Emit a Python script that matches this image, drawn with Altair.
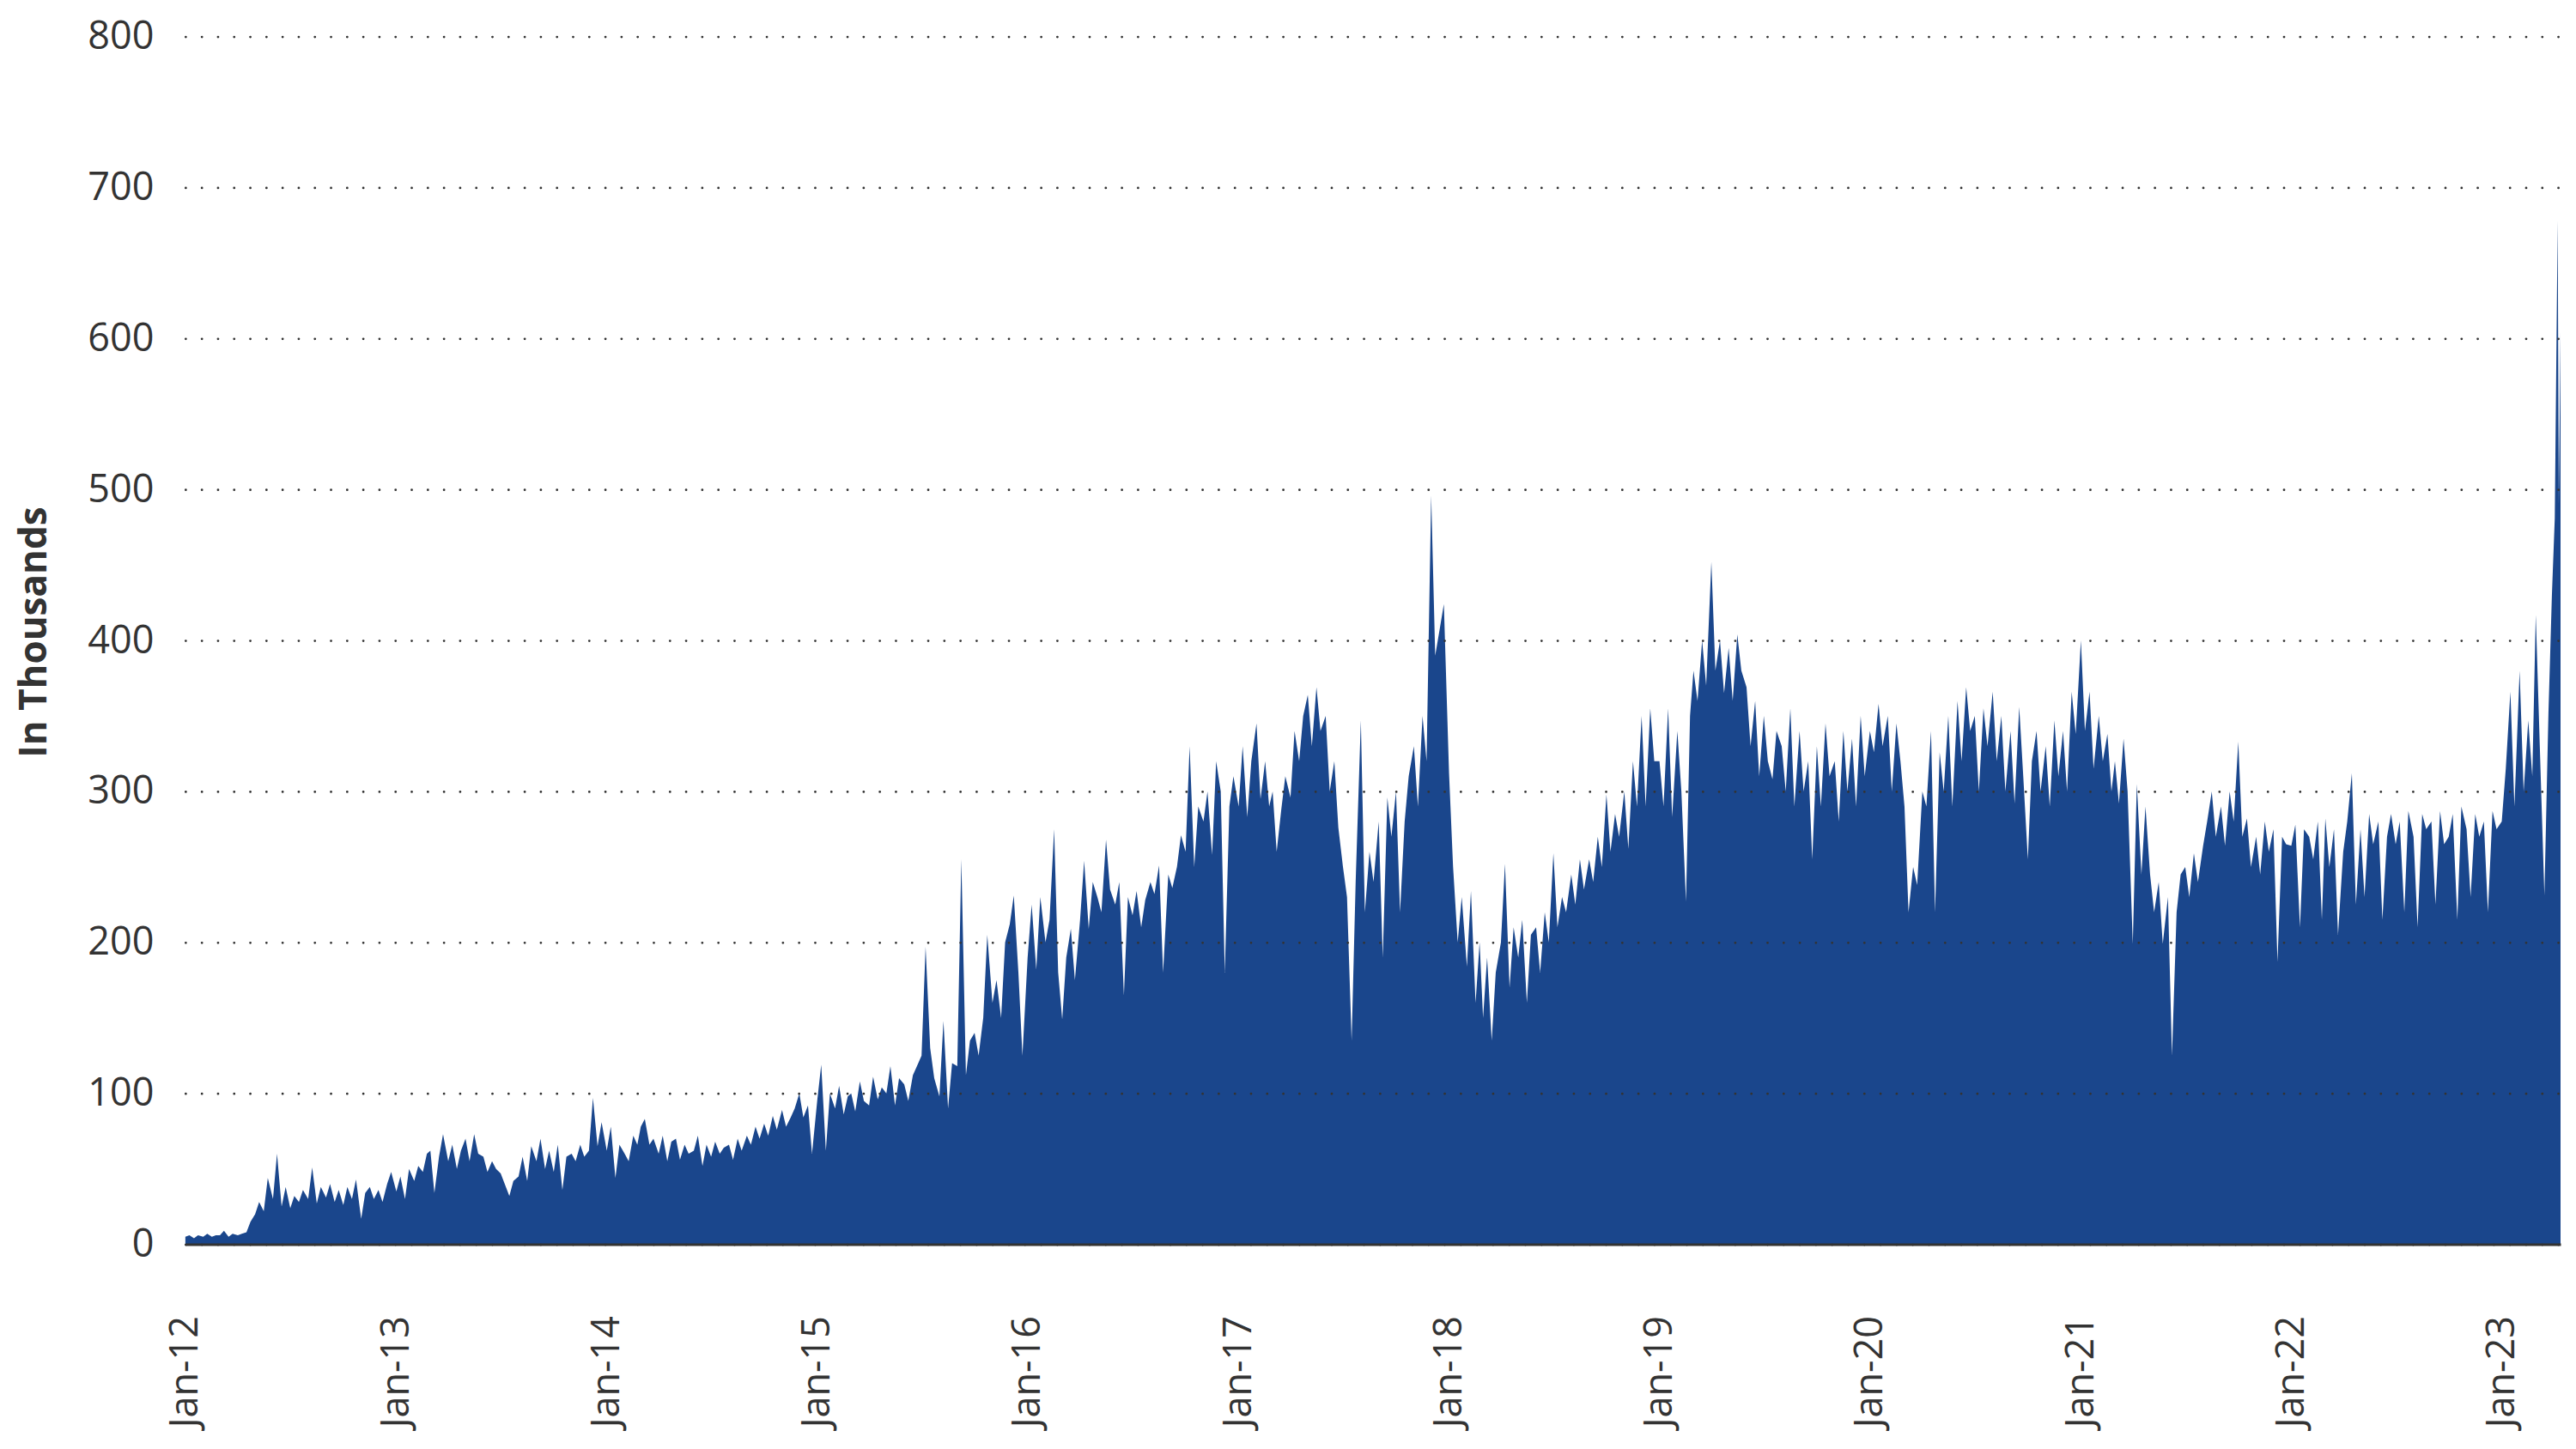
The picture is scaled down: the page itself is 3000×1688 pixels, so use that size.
import altair as alt
import pandas as pd

# Readings: 4 per month (around day 1, 8, 16, 23), values in thousands
DAYS = [1, 8, 16, 23]

v2012 = [5, 6, 4, 6, 5, 7, 5, 6, 6, 9, 5, 7, 6, 7, 8, 15,
         20, 28, 22, 44, 30, 60, 25, 38, 24, 32, 28, 36, 30, 51, 27, 38,
         31, 40, 28, 36, 26, 38, 30, 43, 17, 34, 38, 30, 36, 28, 40, 48]
v2013 = [35, 45, 30, 50, 42, 52, 48, 60, 62, 34, 58, 73, 55, 66, 50, 62,
         70, 55, 73, 60, 58, 48, 55, 50, 47, 40, 32, 42, 45, 58, 42, 65,
         55, 70, 50, 62, 48, 66, 36, 58, 60, 55, 66, 58, 62, 97, 65, 81]
v2014 = [62, 78, 44, 66, 60, 55, 72, 66, 78, 83, 66, 70, 60, 72, 55, 68,
         70, 56, 66, 60, 62, 72, 52, 66, 58, 68, 60, 64, 66, 56, 70, 62,
         72, 66, 78, 70, 80, 72, 85, 76, 89, 78, 84, 90, 100, 84, 92, 60]
v2015 = [95, 119, 62, 100, 90, 105, 86, 98, 100, 88, 108, 95, 92, 111, 96, 104,
         100, 118, 92, 110, 106, 95, 112, 118, 125, 197, 130, 110, 98, 148, 90, 120,
         118, 255, 112, 135, 140, 125, 150, 205, 160, 175, 150, 200, 212, 231, 180, 125]
v2016 = [190, 225, 182, 230, 200, 215, 275, 180, 149, 190, 209, 175, 215, 254, 209, 240,
         230, 220, 268, 235, 225, 240, 165, 230, 218, 234, 210, 228, 240, 232, 251, 180,
         245, 236, 250, 271, 260, 330, 250, 290, 280, 300, 258, 320, 300, 180, 290, 310]
v2017 = [290, 330, 283, 320, 345, 295, 320, 290, 300, 260, 288, 310, 296, 340, 320, 350,
         364, 330, 369, 340, 350, 300, 320, 276, 250, 230, 135, 240, 347, 220, 260, 240,
         280, 190, 296, 270, 300, 220, 280, 310, 330, 290, 350, 320, 496, 390, 408, 424]
v2018 = [312, 250, 200, 230, 184, 234, 160, 200, 150, 190, 135, 180, 200, 252, 170, 210,
         190, 215, 160, 205, 210, 180, 220, 200, 259, 210, 230, 220, 245, 225, 255, 235,
         255, 240, 270, 250, 298, 260, 285, 270, 300, 262, 320, 290, 350, 290, 355, 320]
v2019 = [320, 290, 355, 283, 340, 300, 227, 350, 380, 360, 400, 370, 452, 380, 400, 365,
         395, 360, 404, 380, 369, 330, 360, 310, 350, 320, 308, 340, 330, 300, 355, 290,
         340, 300, 320, 255, 330, 290, 345, 310, 320, 280, 340, 300, 335, 290, 350, 310]
v2020 = [340, 326, 358, 330, 350, 300, 345, 320, 290, 220, 250, 238, 300, 290, 340, 220,
         326, 300, 350, 290, 360, 320, 369, 340, 350, 300, 355, 330, 366, 320, 350, 300,
         340, 292, 356, 310, 255, 320, 340, 300, 330, 290, 347, 310, 340, 300, 366, 338]
v2021 = [400, 340, 366, 315, 350, 320, 338, 300, 320, 292, 335, 300, 199, 305, 245, 290,
         245, 220, 240, 199, 230, 125, 220, 245, 250, 230, 259, 240, 264, 280, 300, 270,
         290, 264, 300, 280, 333, 270, 282, 250, 270, 245, 280, 260, 275, 187, 270, 265]
v2022 = [264, 278, 210, 275, 270, 255, 280, 215, 282, 250, 275, 205, 260, 280, 312, 225,
         275, 230, 285, 265, 280, 215, 270, 285, 265, 280, 220, 287, 270, 210, 285, 275,
         280, 225, 287, 265, 270, 285, 215, 290, 275, 230, 285, 270, 280, 220, 287, 275]
v2023 = [280, 315, 366, 290, 380, 300, 347, 310, 417, 330, 231, 352]

tail_dates = ["2023-03-29", "2023-04-03", "2023-04-08", "2023-04-10", "2023-04-13"]
tail_values = [430, 481, 678, 490, 604]

year_values = {2012: v2012, 2013: v2013, 2014: v2014, 2015: v2015, 2016: v2016,
               2017: v2017, 2018: v2018, 2019: v2019, 2020: v2020, 2021: v2021,
               2022: v2022, 2023: v2023}

rows = []
for yr, vals in year_values.items():
    for i, v in enumerate(vals):
        rows.append({"date": f"{yr}-{i // 4 + 1:02d}-{DAYS[i % 4]:02d}", "value": v})
for d, v in zip(tail_dates, tail_values):
    rows.append({"date": d, "value": v})
df = pd.DataFrame(rows)

year_ticks = [alt.DateTime(year=y, month=1, date=1, utc=True) for y in range(2012, 2024)]
y_ticks = [0, 100, 200, 300, 400, 500, 600, 700, 800]

TEXT = "#333333"

chart = alt.Chart(df).mark_area(color="#1a468c", interpolate="linear").encode(
    x=alt.X(
        "date:T",
        scale=alt.Scale(type="utc", nice=False,
                        domain=[alt.DateTime(year=2012, month=1, date=1, utc=True),
                                alt.DateTime(year=2023, month=4, date=13, utc=True)]),
        axis=alt.Axis(values=year_ticks, format="%b-%y", title=None,
                      labelAngle=270, labelAlign="right", labelBaseline="middle",
                      labelFont="Open Sans", labelFontSize=45, labelColor=TEXT,
                      labelPadding=83, labelFlush=False, labelOverlap=False,
                      ticks=False, tickSize=0, grid=False,
                      domainColor=TEXT, domainWidth=3, zindex=1),
    ),
    y=alt.Y(
        "value:Q",
        scale=alt.Scale(domain=[0, 800], nice=False),
        axis=alt.Axis(values=y_ticks, title="In Thousands",
                      titleFont="Open Sans", titleFontSize=44, titleFontWeight="bold",
                      titleColor=TEXT, titleAngle=270, titleAlign="center",
                      titleBaseline="middle", titleX=-175, titleY=694,
                      labelFont="Open Sans", labelFontSize=45, labelColor=TEXT,
                      labelPadding=37, ticks=False, tickSize=0, domain=False,
                      grid=True, gridColor=TEXT, gridWidth=2.8,
                      gridDash=[0.01, 18.8], gridCap="round", zindex=1),
    ),
).properties(
    width=2768,
    height=1408,
    padding={"left": 208, "top": 34, "right": 10, "bottom": 220},
    autosize=alt.AutoSizeParams(type="none"),
    background="white",
).configure_view(strokeWidth=0)

chart.save("out.html", embed_options={"renderer": "svg", "actions": False})
